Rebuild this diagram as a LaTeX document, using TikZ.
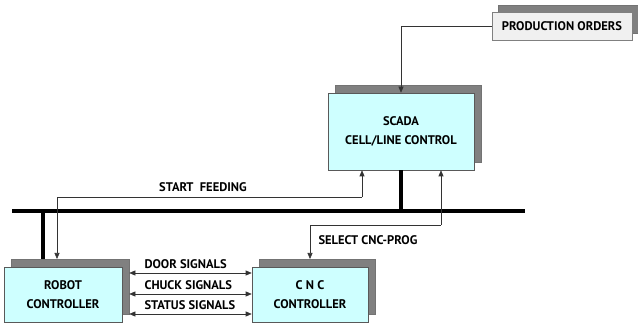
\documentclass[tikz,border=0pt]{standalone}
\usepackage{fontspec}
\setmainfont{PT Sans}
\usetikzlibrary{arrows.meta,shadows,calc}
\definecolor{boxcyan}{RGB}{206,255,255}
\definecolor{shadowgray}{RGB}{128,128,128}

\begin{document}
\begin{tikzpicture}[x=1pt,y=1pt,
  font=\bfseries\fontsize{12.5}{18.5}\selectfont,
  unitbox/.style={draw=black!65, fill=boxcyan, line width=0.6pt, align=center, inner sep=0pt,
    copy shadow={shadow xshift=7pt, shadow yshift=8pt, fill=shadowgray, draw=black!55}},
  orderbox/.style={draw=gray, fill=gray!12, line width=0.6pt, inner sep=0pt,
    copy shadow={shadow xshift=6pt, shadow yshift=7pt, fill=shadowgray, draw=black!55}},
  sig/.style={line width=0.6pt, draw=black!80, -{Triangle[length=6pt,width=5pt]}},
  dsig/.style={sig, {Triangle[length=6pt,width=5pt]}-{Triangle[length=6pt,width=5pt]}},
  bus/.style={line width=3.5pt}]
\useasboundingbox (0,0) rectangle (638,324);

\node[orderbox, minimum width=140, minimum height=28] (po) at (562,298) {PRODUCTION ORDERS};
\node[unitbox, minimum width=146, minimum height=77] (scada) at (401,192.5) {SCADA\\CELL/LINE CONTROL};
\node[unitbox, minimum width=118, minimum height=55] (robot) at (63,29.5) {ROBOT\\CONTROLLER};
\node[unitbox, minimum width=116, minimum height=55] (cnc) at (310,29.5) {C N C\\CONTROLLER};

% field bus
\coordinate (busL) at (12,113);
\coordinate (busR) at (525,113);
\draw[bus] (busL) -- (busR);
\draw[bus] (scada.south) -- (scada.south |- busL);
\coordinate (robtop) at (43,65);
\draw[bus] (robtop |- busL) -- (robtop);

\draw[sig] (po.west) -| (scada.north);

% start feeding
\coordinate (sfL) at (57,127);
\coordinate (sfR) at (362,127);
\draw[sig] (sfR) -- (sfR |- scada.south);
\draw[sig] (sfR) -- (sfL) -- (sfL |- robtop);
\node (sf) at (203,137) {START\ \ FEEDING};

% select cnc-prog
\coordinate (selR) at (441,99);
\coordinate (selL) at (310,99);
\draw[sig] (selR) -- (selR |- scada.south);
\draw[sig] (selR) -- (selL) -- (cnc.north |- robtop);
\node[anchor=west] (sel) at (315,84) {SELECT CNC-PROG};

% signals between robot and cnc
\draw[dsig] ($(robot.east)+(7,21.5)$) -- ($(cnc.west)+(0,21.5)$);
\draw[dsig] ($(robot.east)+(7,0.5)$) -- ($(cnc.west)+(0,0.5)$);
\draw[dsig] ($(robot.east)+(7,-19.5)$) -- ($(cnc.west)+(0,-19.5)$);
\node[anchor=west] (door) at (141,60) {DOOR SIGNALS};
\node[anchor=west] (chuck) at (141,39) {CHUCK SIGNALS};
\node[anchor=west] (status) at (141,19) {STATUS SIGNALS};
\end{tikzpicture}
\end{document}
